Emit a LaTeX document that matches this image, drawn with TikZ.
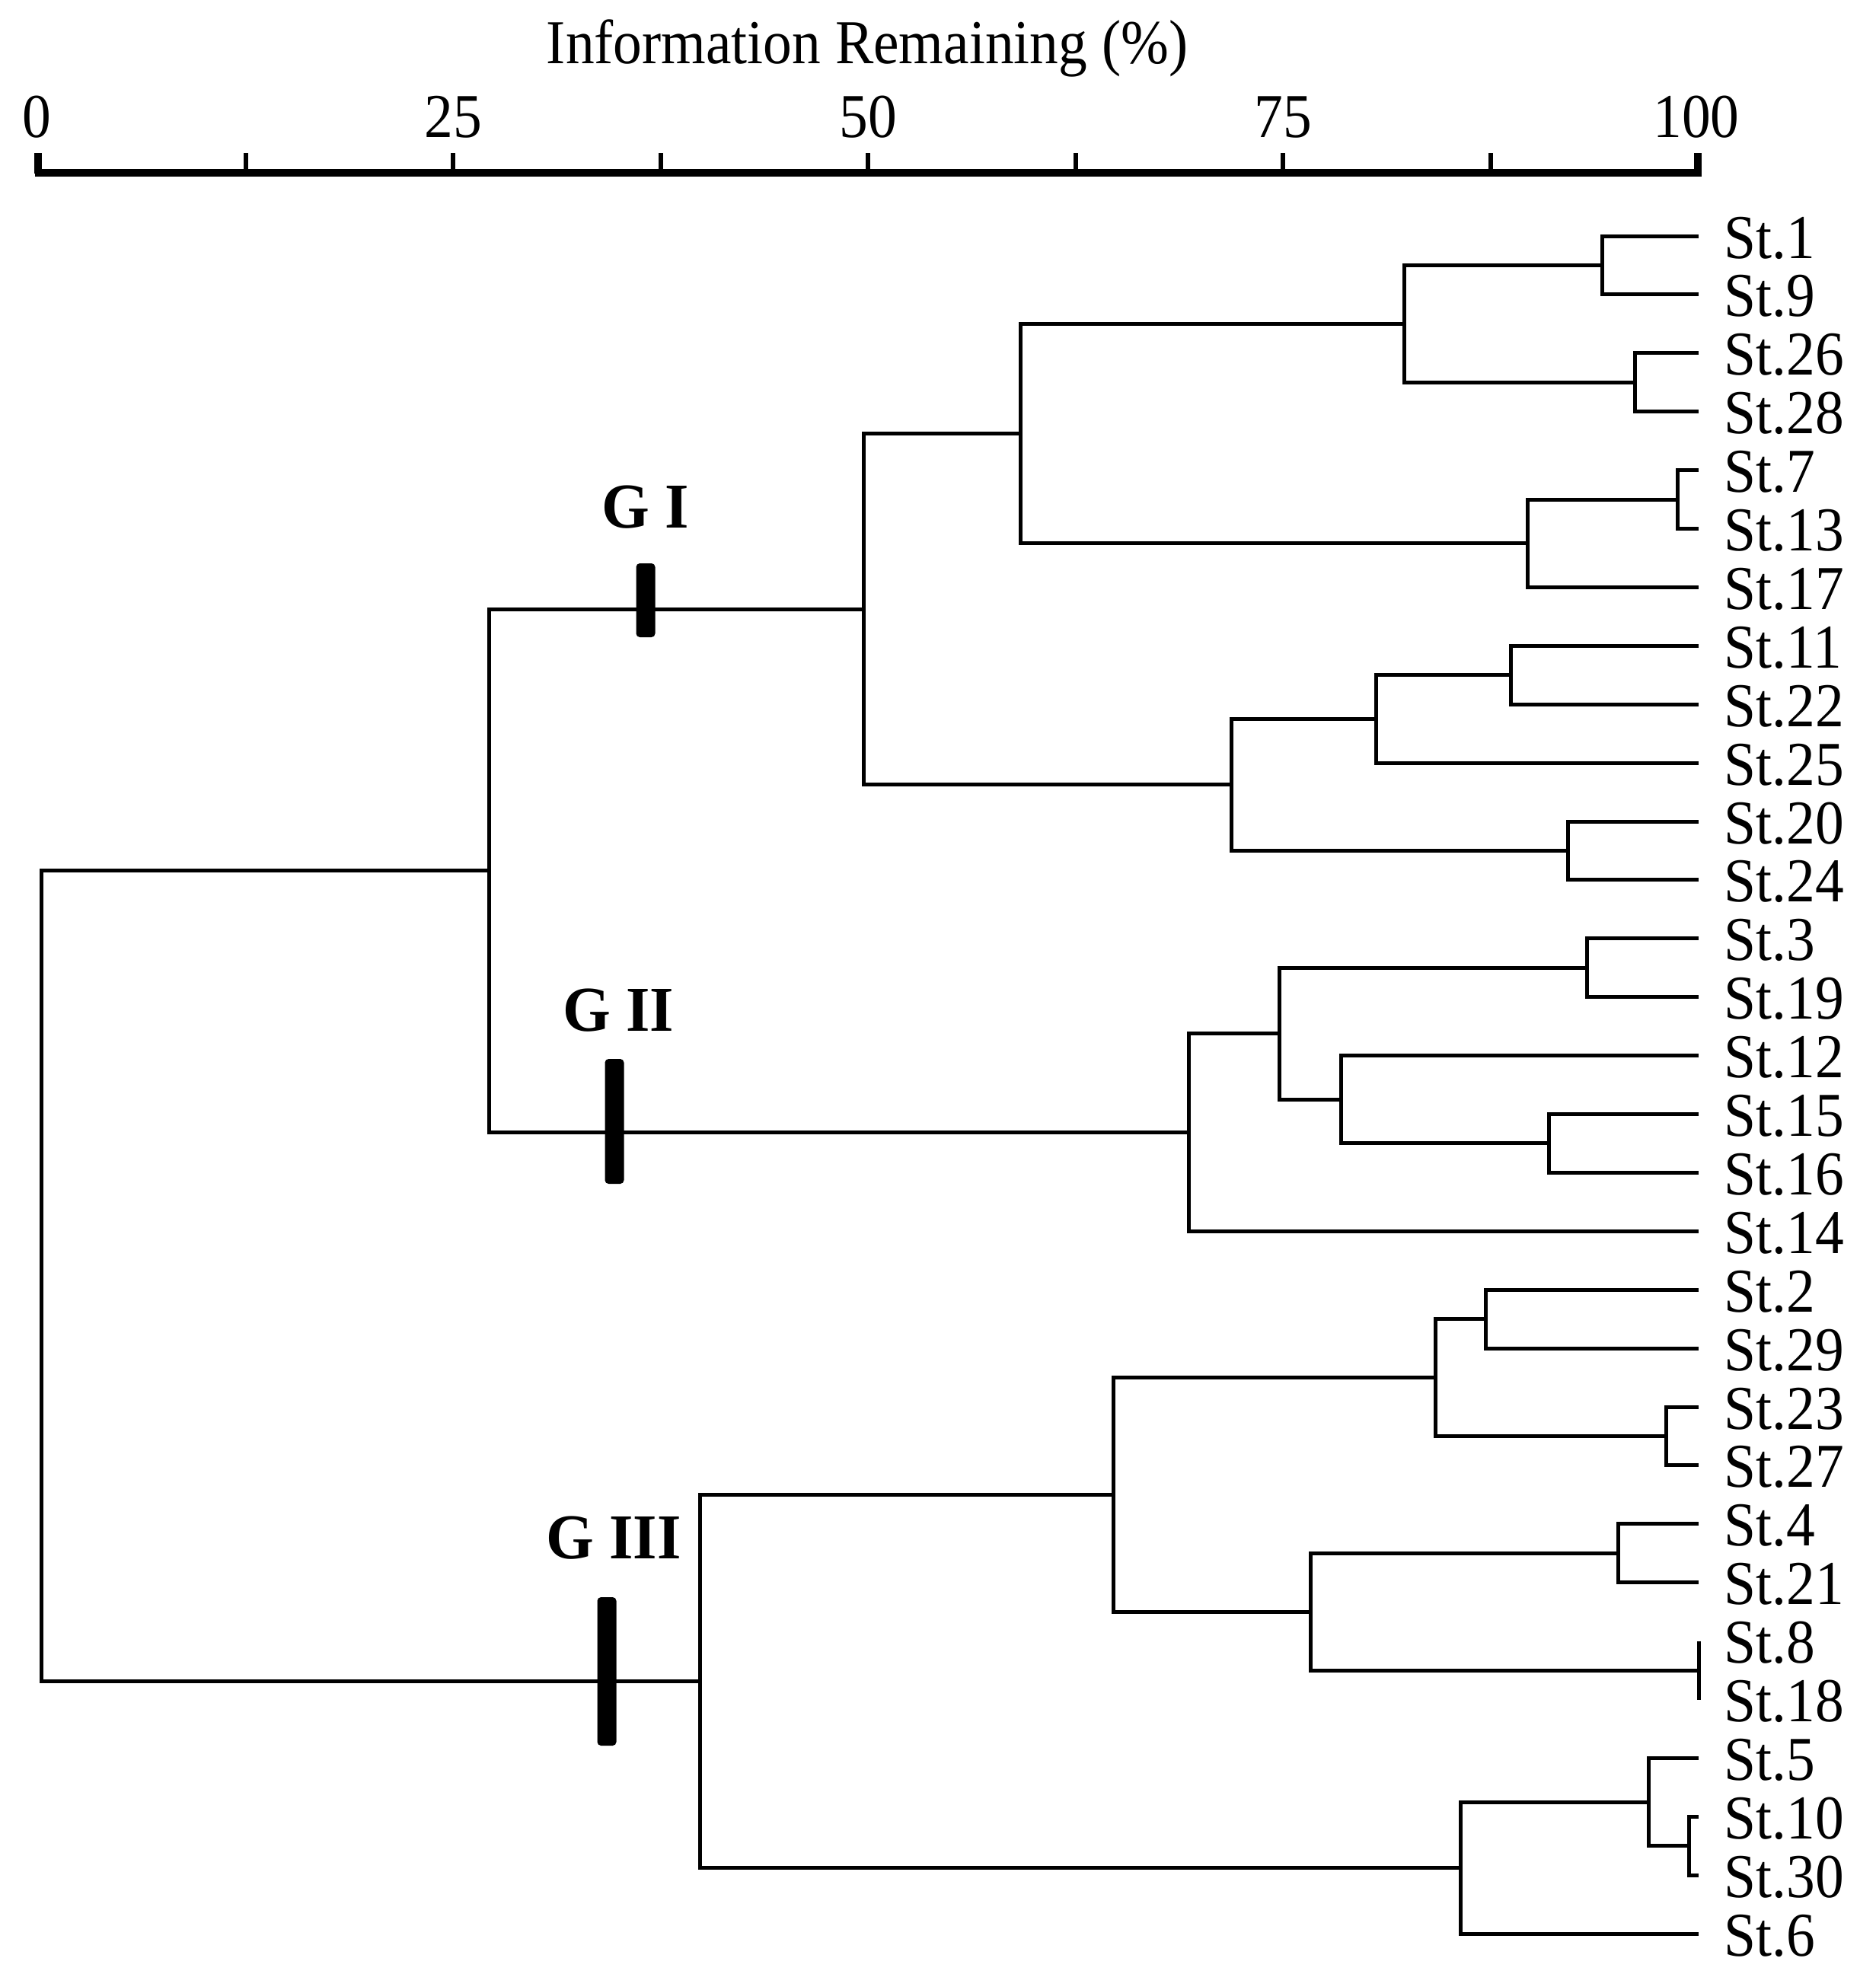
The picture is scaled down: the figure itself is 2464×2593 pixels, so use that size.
\documentclass[tikz,border=0pt]{standalone}
\usepackage{fontspec}
\setmainfont{Liberation Serif}[FakeStretch=0.92]
\newfontfamily\grpfont{Liberation Serif}[FakeStretch=0.96]
\begin{document}
\begin{tikzpicture}[x=0.25pt,y=-0.25pt,
  branch/.style={line width=1.25pt,line join=miter},
  leaflab/.style={anchor=base west,inner sep=0pt,font=\fontsize{20.5pt}{24pt}\selectfont},
  ticklab/.style={anchor=base,inner sep=0pt,font=\fontsize{20.5pt}{24pt}\selectfont},
  grplab/.style={anchor=base,inner sep=0pt,font=\grpfont\bfseries\fontsize{21pt}{24pt}\selectfont},
  gbar/.style={rectangle,fill=black,draw=none,rounded corners=1.2pt,minimum width=6.25pt,inner sep=0pt},
  axisline/.style={line width=2.5pt},
  tickline/.style={line width=1.5pt}]
\def\Y#1{310+76.9*#1}
\useasboundingbox (0,0) rectangle (2464,2593);
% axis
\node[ticklab] (title) at (1139,83) {Information Remaining (\%)};
\draw[axisline] (46,227) -- (2235,227);
\draw[line width=2.5pt] (50,201) -- (50,228);
\draw[line width=2.5pt] (2230,201) -- (2230,228);
\foreach \k in {1,...,7}{\draw[tickline] ({50+272.5*\k},201) -- ({50+272.5*\k},228);}
\node[ticklab] (t0) at (48,180) {0};
\node[ticklab] (t25) at (595,180) {25};
\node[ticklab] (t50) at (1140,180) {50};
\node[ticklab] (t75) at (1685,180) {75};
\node[ticklab] (t100) at (2228,180) {100};
% leaves
\foreach \lab [count=\i from 0] in {1,9,26,28,7,13,17,11,22,25,20,24,3,19,12,15,16,14,2,29,23,27,4,21,8,18,5,10,30,6}{
  \coordinate (l\i) at (2231,\Y{\i});
  \node[leaflab] (lab\i) at (2264,{\Y{\i}+29}) {St.\lab};
}
% merge points
\coordinate (a19) at (2104,\Y{0.5});
\coordinate (a2628) at (2147,\Y{2.5});
\coordinate (b1) at (1844,\Y{1.5});
\coordinate (a713) at (2203,\Y{4.5});
\coordinate (b2) at (2006,\Y{5.25});
\coordinate (c1) at (1340,\Y{3.375});
\coordinate (a1122) at (1984,\Y{7.5});
\coordinate (b3) at (1807,\Y{8.25});
\coordinate (a2024) at (2059,\Y{10.5});
\coordinate (c2) at (1617,\Y{9.375});
\coordinate (g1) at (1134,\Y{6.375});
\coordinate (a319) at (2084,\Y{12.5});
\coordinate (a1516) at (2034,\Y{15.5});
\coordinate (b4) at (1761,\Y{14.75});
\coordinate (c3) at (1680,\Y{13.625});
\coordinate (g2) at (1561,\Y{15.3125});
\coordinate (gg) at (642,\Y{10.84375});
\coordinate (a229) at (1951,\Y{18.5});
\coordinate (a2327) at (2188,\Y{20.5});
\coordinate (b5) at (1885,\Y{19.5});
\coordinate (a421) at (2125,\Y{22.5});
\coordinate (a818) at (2231,\Y{24.5});
\coordinate (b6) at (1721,\Y{23.5});
\coordinate (c4) at (1462,\Y{21.5});
\coordinate (a1030) at (2218,\Y{27.5});
\coordinate (b7) at (2165,\Y{26.75});
\coordinate (c5) at (1918,\Y{27.875});
\coordinate (g3) at (919,\Y{24.6875});
\coordinate (root) at (54,\Y{17.765625});
% elbows
\foreach \m/\p/\q in {a19/l0/l1, a2628/l2/l3, b1/a19/a2628, a713/l4/l5, b2/a713/l6,
  c1/b1/b2, a1122/l7/l8, b3/a1122/l9, a2024/l10/l11, c2/b3/a2024, g1/c1/c2,
  a319/l12/l13, a1516/l15/l16, b4/l14/a1516, c3/a319/b4, g2/c3/l17, gg/g1/g2,
  a229/l18/l19, a2327/l20/l21, b5/a229/a2327, a421/l22/l23, a818/l24/l25,
  b6/a421/a818, c4/b5/b6, a1030/l27/l28, b7/l26/a1030, c5/b7/l29, g3/c4/c5,
  root/gg/g3}{
  \draw[branch] (\p) -| (\m) |- (\q);
}
% group markers
\node[gbar,minimum height=24.25pt] (bar1) at (848,788.5) {};
\node[gbar,minimum height=41pt] (bar2) at (807,1473) {};
\node[gbar,minimum height=48.75pt] (bar3) at (797,2195.5) {};
\node[grplab] (G1) at (848,693) {G I};
\node[grplab] (G2) at (812,1354) {G II};
\node[grplab] (G3) at (806,2047) {G III};
\end{tikzpicture}
\end{document}
